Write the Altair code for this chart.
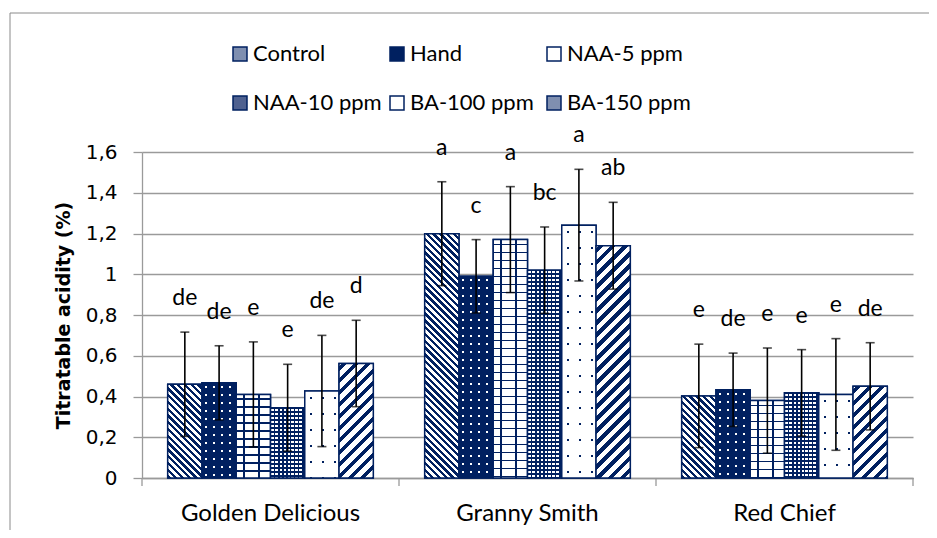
import math
import altair as alt
import pandas as pd

# ---------------- data ----------------
categories = ["Golden Delicious", "Granny Smith", "Red Chief"]
treatments = ["Control", "Hand", "NAA-5 ppm", "NAA-10 ppm", "BA-100 ppm", "BA-150 ppm"]

mean_golden = [0.46, 0.467, 0.41, 0.345, 0.427, 0.562]
mean_granny = [1.199, 0.99, 1.17, 1.02, 1.241, 1.14]
mean_red = [0.403, 0.433, 0.38, 0.418, 0.41, 0.45]

sd_golden = [0.256, 0.182, 0.258, 0.213, 0.273, 0.212]
sd_granny = [0.255, 0.18, 0.26, 0.212, 0.274, 0.213]
sd_red = [0.254, 0.18, 0.258, 0.212, 0.274, 0.214]

letters_golden = ["de", "de", "e", "e", "de", "d"]
letters_granny = ["a", "c", "a", "bc", "a", "ab"]
letters_red = ["e", "de", "e", "e", "e", "de"]

y_ticks = [0, 0.2, 0.4, 0.6, 0.8, 1.0, 1.2, 1.4, 1.6]

means = [mean_golden, mean_granny, mean_red]
sds = [sd_golden, sd_granny, sd_red]
letters = [letters_golden, letters_granny, letters_red]

rows = []
for ci, c in enumerate(categories):
    for ti, t in enumerate(treatments):
        m, s = means[ci][ti], sds[ci][ti]
        rows.append(dict(category=c, treatment=t, mean=m, sd=s,
                         lo=m - s, hi=m + s, letter=letters[ci][ti]))
df = pd.DataFrame(rows)

# ---------------- layout / style ----------------
W, H = 771, 326
YMAX = 1.6
PAD_IN, PAD_OUT = 0.2, 0.1
step = W / (len(categories) - PAD_IN + 2 * PAD_OUT)
bar_w = step * (1 - PAD_IN) / len(treatments)

NAVY = "#002060"
WHITE = "#ffffff"
CLEAR = "rgba(255,255,255,0)"
GREY = "#9a9a9a"
FONT = "Lato"
AXFONT = "DejaVu Sans"

legend_colors = ["#7f8fb0", NAVY, "#ffffff", "#4f6190", "#ffffff", "#7f8fb0"]


def X():
    return alt.X("category:N", sort=categories,
                 scale=alt.Scale(paddingInner=PAD_IN, paddingOuter=PAD_OUT),
                 axis=alt.Axis(title=None, labelAngle=0, ticks=False, tickSize=0,
                               labelFont=FONT, labelFontSize=24, labelColor="#000",
                               labelPadding=23,
                               domainColor=GREY, domainWidth=1.3, grid=False))


def XO():
    return alt.XOffset("treatment:N",
                       scale=alt.Scale(domain=treatments, paddingInner=0, paddingOuter=0))


def Y(field):
    return alt.Y(f"{field}:Q",
                 scale=alt.Scale(domain=[0, YMAX], nice=False, zero=True),
                 axis=alt.Axis(title="Titratable acidity (%)", values=y_ticks,
                               labelExpr="replace(format(datum.value, '.1~f'), '.', ',')",
                               labelFont=AXFONT, labelFontSize=20, labelColor="#000",
                               labelPadding=16,
                               tickSize=9, tickColor=GREY, tickWidth=1.3,
                               domainColor=GREY, domainWidth=1.3,
                               gridColor=GREY, gridWidth=1.3,
                               titleFont=AXFONT, titleFontSize=19, titleFontWeight="bold",
                               titleColor="#000", titlePadding=12))


def GS(o, c):
    return alt.GradientStop(offset=round(min(max(o, 0), 1), 5), color=c)


def bands(L, period, on, on_c, off_c, phase=0.0):
    stops = [GS(0, off_c)]
    a = phase
    while a < L:
        b = min(a + on, L)
        stops += [GS(a / L, off_c), GS(a / L, on_c), GS(b / L, on_c), GS(b / L, off_c)]
        a += period
    stops.append(GS(1, off_c))
    return stops


def grad(stops, x1, y1, x2, y2):
    return alt.LinearGradient(gradient="linear", stops=stops, x1=x1, y1=y1, x2=x2, y2=y2)


def pattern(t, w, h):
    """list of gradient fills, bottom to top"""
    diag = (w + h) / math.sqrt(2)
    tt = (w + h) / (w * w + h * h)
    if t == "Control":
        return [grad(bands(diag, 4.8, 2.4, NAVY, WHITE), 0, 1, w * tt, 1 - h * tt)]
    if t == "BA-150 ppm":
        return [grad(bands(diag, 8.5, 3.8, NAVY, WHITE, 2), 0, 0, w * tt, h * tt)]
    if t == "Hand":
        return [grad(bands(w, 8, 2, WHITE, NAVY, 3), 0, 0.5, 1, 0.5),
                grad(bands(h, 8, 2, CLEAR, NAVY, 3), 0.5, 0, 0.5, 1)]
    if t == "NAA-10 ppm":
        return [grad(bands(w, 4, 2.2, WHITE, NAVY, 1), 0, 0.5, 1, 0.5),
                grad(bands(h, 4, 2.2, CLEAR, NAVY, 1), 0.5, 0, 0.5, 1)]
    if t == "BA-100 ppm":
        return [grad(bands(w, 12, 2, NAVY, WHITE, 5), 0, 0.5, 1, 0.5),
                grad(bands(h, 16, 2, CLEAR, WHITE, 6), 0.5, 0, 0.5, 1)]
    # NAA-5 ppm : brick-like grid
    return [grad(bands(w, 15, 1.4, NAVY, WHITE, 7), 0, 0.5, 1, 0.5),
            grad(bands(h, 8, 1.4, NAVY, CLEAR, 4), 0.5, 0, 0.5, 1)]


base = alt.Chart(df)

layers = []
layers.append(
    base.mark_bar(stroke=NAVY, strokeWidth=1.5).encode(
        x=X(), xOffset=XO(), y=Y("mean"),
        fill=alt.Fill("treatment:N",
                      scale=alt.Scale(domain=treatments, range=legend_colors),
                      legend=alt.Legend(title=None, orient="none", legendX=87, legendY=-109,
                                        direction="horizontal", columns=3, gridAlign="all",
                                        symbolType="square", symbolSize=196,
                                        symbolStrokeColor=NAVY, symbolStrokeWidth=1.5,
                                        labelFont=FONT, labelFontSize=22, labelColor="#000",
                                        labelOffset=2,
                                        columnPadding=4, rowPadding=27, padding=0))
    )
)

for ci, c in enumerate(categories):
    for ti, t in enumerate(treatments):
        h = means[ci][ti] / YMAX * H
        fills = pattern(t, bar_w, h)
        for k, g in enumerate(fills):
            top = k == len(fills) - 1
            mk = dict(fill=g)
            if top:
                mk.update(stroke=NAVY, strokeWidth=1.5)
            else:
                mk.update(strokeWidth=0)
            layers.append(
                base.transform_filter(
                    (alt.datum.category == c) & (alt.datum.treatment == t)
                ).mark_bar(**mk).encode(x=X(), xOffset=XO(), y=Y("mean"))
            )

layers.append(base.mark_rule(color="#000", strokeWidth=1.6).encode(
    x=X(), xOffset=XO(), y=Y("lo"), y2="hi:Q"))
layers.append(base.mark_tick(color="#000", thickness=1.6, size=9).encode(
    x=X(), xOffset=XO(), y=Y("hi")))
layers.append(base.mark_tick(color="#000", thickness=1.6, size=9).encode(
    x=X(), xOffset=XO(), y=Y("lo")))
layers.append(base.mark_text(font=FONT, fontSize=23, color="#000", baseline="alphabetic",
                             dy=-27).encode(
    x=X(), xOffset=XO(), y=Y("hi"), text="letter:N"))

# x-axis category separator ticks
deco = alt.Chart(pd.DataFrame({"k": [0]}))
for i in range(len(categories) + 1):
    layers.append(deco.mark_rule(color=GREY, strokeWidth=1.3).encode(
        x=alt.value(i * step), y=alt.value(H), y2=alt.value(H + 8)))

# chart-area frame
layers.append(deco.mark_rect(filled=False, stroke="#8a8a8a", strokeWidth=1).encode(
    x=alt.value(-132), y=alt.value(-139), x2=alt.value(W + 200), y2=alt.value(H + 200)))

chart = alt.layer(*layers).properties(
    width=W, height=H,
    autosize=alt.AutoSizeParams(type="none"),
    padding={"left": 134, "top": 144, "right": 16, "bottom": 52},
).configure(font=FONT).configure_view(stroke=None)

chart.save("out.html", embed_options={"renderer": "svg", "actions": False})
